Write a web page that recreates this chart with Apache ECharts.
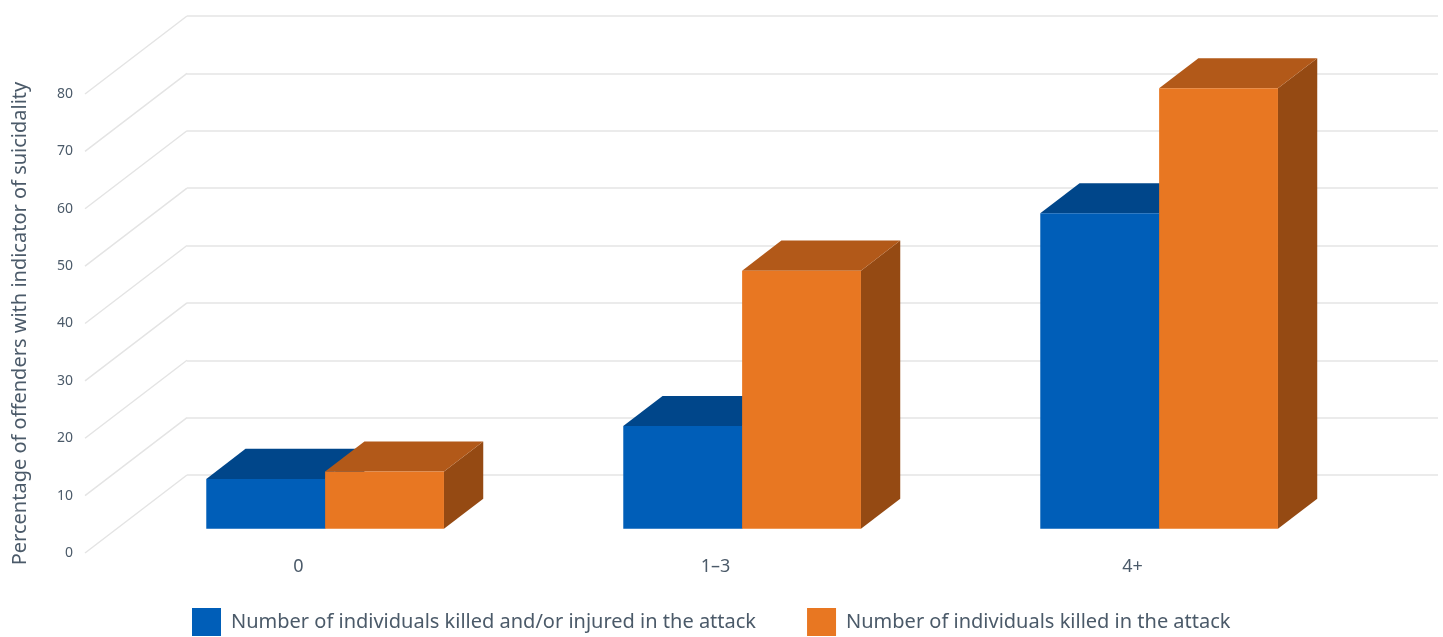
<!DOCTYPE html>
<html>
<head>
<meta charset="utf-8">
<title>Suicidality by attack casualties</title>
<script src="https://cdn.jsdelivr.net/npm/echarts@6/dist/echarts.min.js"></script>
<style>
  html, body { margin: 0; padding: 0; background: #fff; }
  #chart { width: 1443px; height: 637px; }
</style>
</head>
<body>
<div id="chart"></div>
<script>
const categories = ['0', '1–3', '4+']
const killedOrInjured = [8.7, 17.9, 55.0]
const killed = [10.0, 45.0, 76.8]
const yTicks = [0, 10, 20, 30, 40, 50, 60, 70, 80]

const seriesNames = [
  'Number of individuals killed and/or injured in the attack',
  'Number of individuals killed in the attack',
]

// oblique "3d" look: full depth of the box and depth of one bar
const DEPTH_X = 102
const DEPTH_Y = 78
const BAR_FRONT = 0.69   // bar front plane, as fraction of depth measured from the back wall
const BAR_DEPTH = 0.385
const BAR_WIDTH = 0.285  // share of the category band for one bar

const textColor = '#4b5a69'
const lineColor = '#e4e4e4'

const faceColors = [
  { front: '#005eb8', top: '#00468a', side: '#003a73' },
  { front: '#e87722', top: '#b25919', side: '#954a13' },
]

const chart = echarts.init(document.getElementById('chart'))

const barRenderer = (seriesIdx) => (params, api) => {
  const cat = api.value(0)
  const val = api.value(1)
  const base = api.coord([cat, 0])
  const top = api.coord([cat, val])
  const band = api.size([1, 0])[0]
  const w = band * BAR_WIDTH
  const sx = -DEPTH_X * BAR_FRONT
  const sy = DEPTH_Y * BAR_FRONT
  const dx = DEPTH_X * BAR_DEPTH
  const dy = DEPTH_Y * BAR_DEPTH
  const x0 = base[0] + sx + (seriesIdx === 0 ? -w : 0)
  const x1 = x0 + w
  const yb = base[1] + sy
  const yt = top[1] + sy
  const c = faceColors[seriesIdx]
  return {
    type: 'group',
    children: [
      {
        type: 'polygon',
        shape: { points: [[x1, yt], [x1 + dx, yt - dy], [x1 + dx, yb - dy], [x1, yb]] },
        style: { fill: c.side },
      },
      {
        type: 'polygon',
        shape: { points: [[x0, yt], [x1, yt], [x1 + dx, yt - dy], [x0 + dx, yt - dy]] },
        style: { fill: c.top },
      },
      {
        type: 'polygon',
        shape: { points: [[x0, yt], [x1, yt], [x1, yb], [x0, yb]] },
        style: { fill: c.front },
      },
    ],
  }
}

const option = {
  animation: false,
  textStyle: { fontFamily: 'Noto Sans' },
  grid: [
    { left: 187, right: 5, top: 16, bottom: 162 },
    { left: 90, right: 102, top: 94, bottom: 84 },
  ],
  legend: {
    left: 192,
    bottom: 1,
    padding: 0,
    itemWidth: 29,
    itemHeight: 28,
    itemGap: 51,
    icon: 'rect',
    textStyle: { fontSize: 20, color: textColor, padding: [0, 0, 0, 5] },
    data: seriesNames,
  },
  xAxis: [
    {
      type: 'category',
      gridIndex: 0,
      data: categories,
      axisLine: { show: false },
      axisTick: { show: false },
      axisLabel: { show: false },
    },
    {
      type: 'category',
      gridIndex: 1,
      data: categories,
      axisLine: { show: false },
      axisTick: { show: false },
      axisLabel: { fontSize: 18, color: textColor, margin: 5 },
    },
  ],
  yAxis: [
    {
      type: 'value',
      gridIndex: 0,
      min: 0,
      max: 80,
      interval: 10,
      axisLabel: { show: false },
      splitLine: { lineStyle: { color: lineColor, width: 1.5 } },
    },
    {
      type: 'value',
      gridIndex: 1,
      min: 0,
      max: 80,
      interval: 10,
      splitLine: { show: false },
      axisLabel: { fontSize: 14, color: textColor, margin: 17 },
      name: 'Percentage of offenders with indicator of suicidality',
      nameLocation: 'middle',
      nameGap: 60,
      nameTextStyle: { fontSize: 20, color: textColor },
    },
  ],
  series: [
    {
      // side-wall lines from the front edge to the back wall
      type: 'custom',
      xAxisIndex: 0,
      yAxisIndex: 0,
      silent: true,
      data: yTicks.map((v) => [0, v]),
      renderItem: (params, api) => {
        const p = api.coord([0, api.value(1)])
        const bx = params.coordSys.x
        return {
          type: 'line',
          shape: { x1: bx - DEPTH_X, y1: p[1] + DEPTH_Y, x2: bx, y2: p[1] },
          style: { stroke: lineColor, lineWidth: 1.5 },
        }
      },
    },
    {
      name: seriesNames[0],
      type: 'custom',
      xAxisIndex: 0,
      yAxisIndex: 0,
      itemStyle: { color: faceColors[0].front },
      data: killedOrInjured.map((v, i) => [i, v]),
      renderItem: barRenderer(0),
    },
    {
      name: seriesNames[1],
      type: 'custom',
      xAxisIndex: 0,
      yAxisIndex: 0,
      itemStyle: { color: faceColors[1].front },
      data: killed.map((v, i) => [i, v]),
      renderItem: barRenderer(1),
    },
  ],
}

chart.setOption(option)
</script>
</body>
</html>
